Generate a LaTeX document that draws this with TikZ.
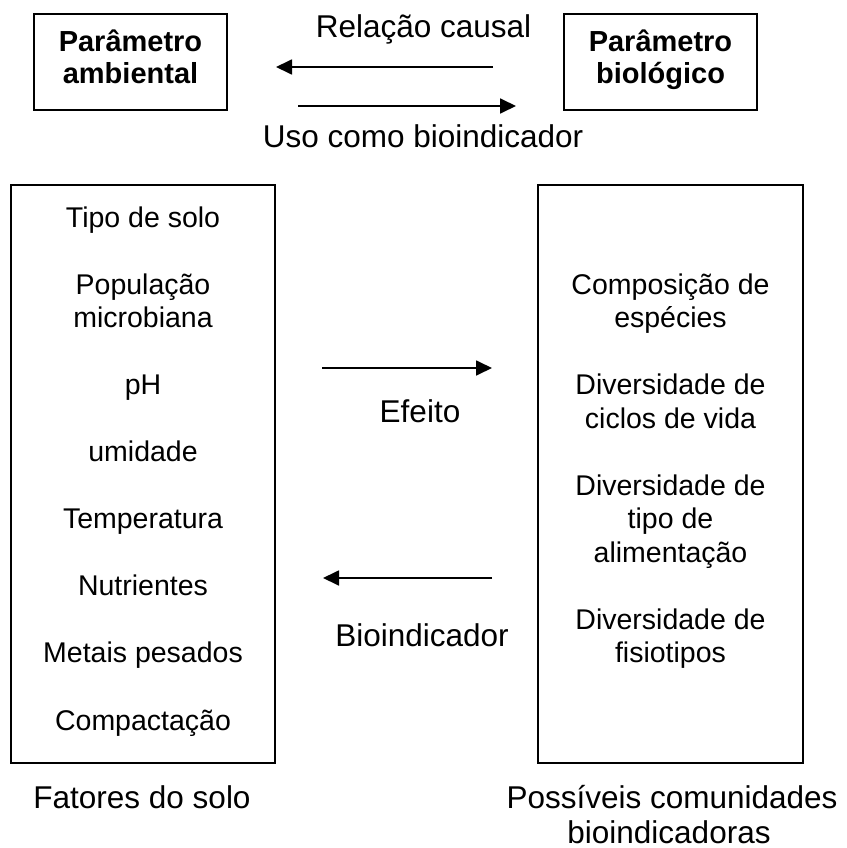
\documentclass[tikz,border=0pt]{standalone}
\usepackage{fontspec}
\setmainfont{Liberation Sans}
\usetikzlibrary{arrows.meta}
\begin{document}
\begin{tikzpicture}[x=1pt,y=-1pt,
  box/.style={draw, line width=1.8pt, inner sep=0pt},
  item/.style={anchor=base, inner sep=0pt, font=\fontsize{28.5}{33.5}\selectfont},
  lbl/.style={anchor=base, inner sep=0pt, font=\fontsize{31.5}{36}\selectfont},
  boldlbl/.style={anchor=base, inner sep=0pt, font=\fontsize{29}{32.5}\selectfont\bfseries},
  conn/.style={line width=1.8pt, -{Triangle[length=16pt,width=15pt]}}]
\useasboundingbox (0,0) rectangle (846,848);

% top boxes
\node[box, minimum width=193pt, minimum height=96pt] (envbox) at (130.5,62) {};
\node[box, minimum width=193pt, minimum height=96pt] (biobox) at (660.5,62) {};
\node[boldlbl] (envA) at (130.5,52) {Parâmetro};
\node[boldlbl] (envB) at (130.5,84) {ambiental};
\node[boldlbl] (bioA) at (660.5,52) {Parâmetro};
\node[boldlbl] (bioB) at (660.5,84) {biológico};

% top labels and arrows
\node[lbl] (causal) at (423.5,38) {Relação causal};
\node[lbl] (uso) at (423,147) {Uso como bioindicador};
\coordinate (t1s) at (493,67);
\coordinate (t1e) at (276,67);
\coordinate (t2s) at (298,106);
\coordinate (t2e) at (516,106);
\draw[conn] (t1s) -- (t1e);
\draw[conn] (t2s) -- (t2e);

% big boxes
\node[box, minimum width=264pt, minimum height=578pt] (soil) at (143,474) {};
\node[box, minimum width=265pt, minimum height=578pt] (comm) at (670.5,474) {};

% left column
\node[item] (l1) at (143,227) {Tipo de solo};
\node[item] (l2) at (143,294) {População};
\node[item] (l3) at (143,327.5) {microbiana};
\node[item] (l4) at (143,394.5) {pH};
\node[item] (l5) at (143,461.5) {umidade};
\node[item] (l6) at (143,528.5) {Temperatura};
\node[item] (l7) at (143,595.5) {Nutrientes};
\node[item] (l8) at (143,662.5) {Metais pesados};
\node[item] (l9) at (143,730) {Compactação};

% right column
\node[item] (r1) at (670.5,294) {Composição de};
\node[item] (r2) at (670.5,327.5) {espécies};
\node[item] (r3) at (670.5,394.5) {Diversidade de};
\node[item] (r4) at (670.5,428) {ciclos de vida};
\node[item] (r5) at (670.5,495) {Diversidade de};
\node[item] (r6) at (670.5,528.5) {tipo de};
\node[item] (r7) at (670.5,562) {alimentação};
\node[item] (r8) at (670.5,629) {Diversidade de};
\node[item] (r9) at (670.5,662.5) {fisiotipos};

% middle arrows
\coordinate (m1s) at (322,368);
\coordinate (m1e) at (492,368);
\coordinate (m2s) at (492,578);
\coordinate (m2e) at (323,578);
\draw[conn] (m1s) -- (m1e);
\draw[conn] (m2s) -- (m2e);
\node[lbl] (efeito) at (420,422) {Efeito};
\node[lbl] (bioind) at (422,646) {Bioindicador};

% bottom labels
\node[lbl] (fatores) at (142,808) {Fatores do solo};
\node[lbl] (poss1) at (672,808) {Possíveis comunidades};
\node[lbl] (poss2) at (669,843) {bioindicadoras};
\end{tikzpicture}
\end{document}
